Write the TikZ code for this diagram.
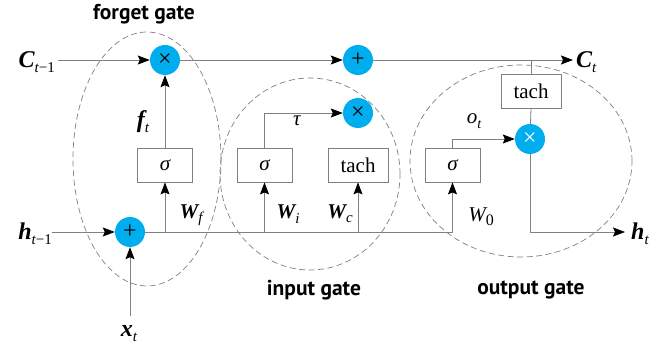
\documentclass[tikz,border=0pt]{standalone}
\usepackage{fontspec}
\setmainfont{Liberation Serif}
\newfontfamily\gatefont{PT Sans}
\usetikzlibrary{arrows.meta}
\definecolor{opblue}{HTML}{00AEEF}
\definecolor{lgray}{HTML}{808080}
\newcommand\bv[2]{{\bfseries\itshape #1}\raisebox{-0.45ex}{\fontsize{15}{15}\selectfont #2}}
\begin{document}
\begin{tikzpicture}[x=1pt,y=-1pt,
  line/.style={draw=lgray,line width=0.8pt},
  arr/.style={line,-{Stealth[length=12pt,width=9pt,inset=2pt,color=black]}},
  opc/.style={circle,fill=opblue,minimum size=30pt,inner sep=0pt,font=\fontsize{24}{24}\selectfont},
  fbox/.style={draw=lgray,line width=0.8pt,minimum width=55pt,minimum height=34pt,inner sep=0pt,font=\fontsize{21}{21}\selectfont},
  gate/.style={draw=lgray,dash pattern=on 6pt off 3.5pt,line width=0.7pt},
  glabel/.style={font=\gatefont\bfseries\fontsize{21.5}{21.5}\selectfont},
  vlabel/.style={font=\fontsize{24}{24}\selectfont,inner sep=0pt},
  wlabel/.style={font=\fontsize{21}{21}\selectfont,inner sep=0pt}]
\useasboundingbox (0,0) rectangle (662,347);
% gates
\draw[gate] (147,159) ellipse [x radius=74pt,y radius=127pt];
\draw[gate] (310,174) ellipse [x radius=90pt,y radius=96pt];
\draw[gate] (521,161) ellipse [x radius=111pt,y radius=96pt];
% operators
\node[opc] (m1) at (165,60) {×};
\node[opc] (p1) at (358,60) {+};
\node[opc] (m2) at (358,113) {×};
\node[opc,text=white] (m3) at (530,139) {×};
\node[opc] (p0) at (130,232) {+};
% boxes
\node[fbox] (sf) at (165,165) {\itshape σ};
\node[fbox] (si) at (264.5,165) {\itshape σ};
\node[fbox,minimum width=60pt] (tc) at (358,165) {tach};
\node[fbox] (so) at (452.5,165) {\itshape σ};
\node[fbox,minimum width=60pt] (to) at (531,91) {tach};
% coordinates
\coordinate (cin) at (58,60);
\coordinate (cout) at (573,60);
\coordinate (jC) at (531,60);
\coordinate (hin) at (52,232);
\coordinate (xin) at (130,316);
\coordinate (hout) at (625,232);
\coordinate (hend) at (so.south |- p0);
% connectors
\draw[arr] (cin) -- (m1);
\draw[arr] (m1) -- (p1);
\draw[arr] (p1) -- (cout);
\draw[line] (jC) -- (to.north);
\draw[line] (to.south) -- (m3);
\draw[arr] (m3) |- (hout);
\draw[arr] (hin) -- (p0);
\draw[arr] (xin) -- (p0);
\draw[line] (p0) -- (hend);
\draw[arr] (sf.north) -- (m1);
\draw[arr] (sf.south |- p0) -- (sf.south);
\draw[arr] (si.south |- p0) -- (si.south);
\draw[arr] (tc.south |- p0) -- (tc.south);
\draw[arr] (hend) -- (so.south);
\draw[arr] (si.north) |- (m2);
\draw[arr] (so.north) |- (m3);
% labels
\node[vlabel,anchor=east] (lc0) at (55,62) {\bv{C}{\itshape t\upshape −1}};
\node[vlabel,anchor=west] (lc1) at (576,62) {\bv{C}{\itshape t}};
\node[vlabel,anchor=east] (lh0) at (52,234) {\bv{h}{\itshape t\upshape −1}};
\node[vlabel,anchor=west] (lh1) at (631,234) {\bv{h}{\itshape t}};
\node[vlabel] (lx) at (129,334) {\bv{x}{\itshape t}};
\node[vlabel] (lf) at (143,122) {\bv{f}{\itshape t}};
\node[wlabel] (ltau) at (297,121) {\itshape τ};
\node[wlabel] (lo) at (474,121) {\itshape o\raisebox{-0.45ex}{\fontsize{14}{14}\selectfont t}};
\node[wlabel] (lwf) at (191,215) {\bv{W}{\itshape f}};
\node[wlabel] (lwi) at (288,214) {\bv{W}{\itshape i}};
\node[wlabel] (lwc) at (340,214) {\bv{W}{\itshape c}};
\node[wlabel] (lw0) at (481,217) {\itshape W\raisebox{-0.45ex}{\fontsize{16}{16}\selectfont\upshape 0}};
\node[glabel] (gf) at (144,14) {forget gate};
\node[glabel] (gi) at (314,290) {input gate};
\node[glabel] (go) at (531,290) {output gate};
\end{tikzpicture}
\end{document}
